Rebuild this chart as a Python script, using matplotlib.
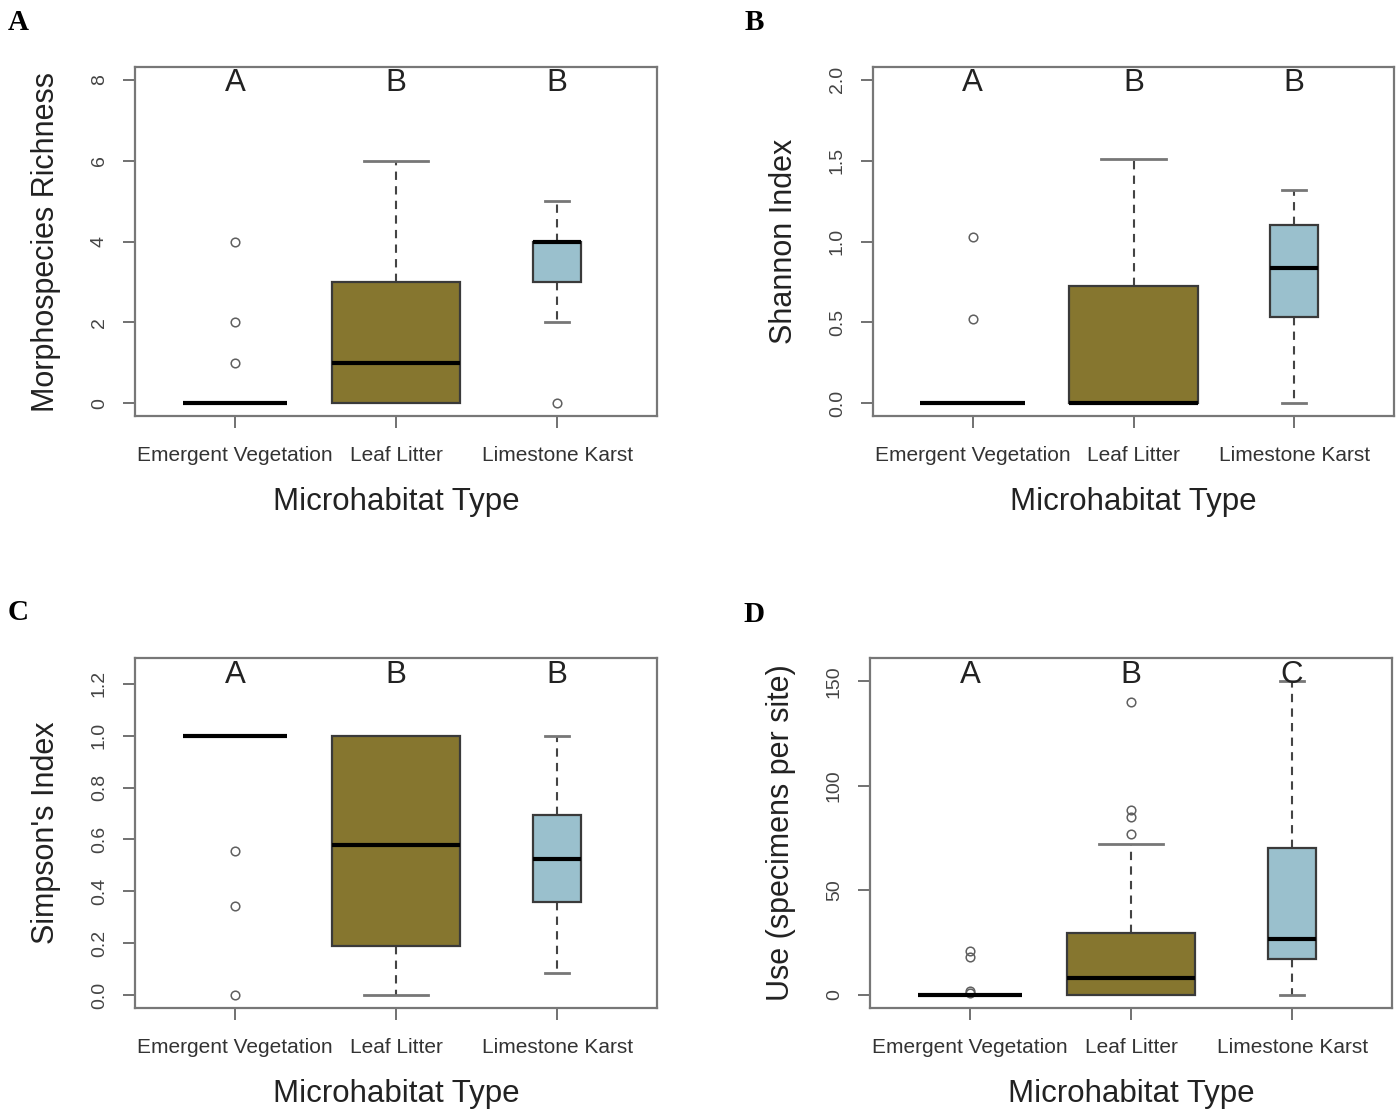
import matplotlib.pyplot as plt
import numpy as np

plt.rcParams['font.family'] = ['Liberation Sans', 'DejaVu Sans']

categories = ['Emergent Vegetation', 'Leaf Litter', 'Limestone Karst']
box_colors = ['white', '#86762F', '#9AC0CD']
box_widths = [0.65, 0.80, 0.30]

# morphospecies richness
rich_q1 = [0, 0, 3]
rich_med = [0, 1, 4]
rich_q3 = [0, 3, 4]
rich_lo = [0, 0, 2]
rich_hi = [0, 6, 5]
rich_out = [[1, 2, 4], [], [0]]
rich_letters = ['A', 'B', 'B']

# shannon index
shan_q1 = [0, 0, 0.535]
shan_med = [0, 0, 0.835]
shan_q3 = [0, 0.725, 1.105]
shan_lo = [0, 0, 0]
shan_hi = [0, 1.51, 1.32]
shan_out = [[0.52, 1.03], [], []]
shan_letters = ['A', 'B', 'B']

# simpson's index
simp_q1 = [1.0, 0.19, 0.36]
simp_med = [1.0, 0.58, 0.525]
simp_q3 = [1.0, 1.0, 0.695]
simp_lo = [1.0, 0.0, 0.085]
simp_hi = [1.0, 1.0, 1.0]
simp_out = [[0.0, 0.345, 0.555], [], []]
simp_letters = ['A', 'B', 'B']

# use (specimens per site)
use_q1 = [0, 0, 17]
use_med = [0, 8, 27]
use_q3 = [0, 29.5, 70.5]
use_lo = [0, 0, 0]
use_hi = [0, 72, 150]
use_out = [[1, 2, 18, 21], [77, 85, 88.5, 140], []]
use_letters = ['A', 'B', 'C']

W, H = 1398, 1110
fig = plt.figure(figsize=(W / 100, H / 100), dpi=100)


def draw_panel(rect, q1, med, q3, lo, hi, out, letters, ylim, yticks, ytlabels,
               ylabel, letter_y, tag, tag_xy):
    ax = fig.add_axes([rect[0] / W, 1 - rect[3] / H,
                       (rect[2] - rect[0]) / W, (rect[3] - rect[1]) / H])
    stats = []
    for i in range(3):
        stats.append(dict(med=med[i], q1=q1[i], q3=q3[i],
                          whislo=lo[i], whishi=hi[i], fliers=out[i]))
    bp = ax.bxp(stats, positions=[1, 2, 3], widths=box_widths,
                capwidths=[w * 0.5 for w in box_widths], patch_artist=True,
                boxprops=dict(edgecolor='#3a3a3a', linewidth=1.6, zorder=3),
                medianprops=dict(color='black', linewidth=3.0, zorder=4),
                whiskerprops=dict(color='#444444', linewidth=1.5,
                                  linestyle=(0, (4, 3)), zorder=2),
                capprops=dict(color='#777777', linewidth=2.0, zorder=2),
                flierprops=dict(marker='o', markerfacecolor='none',
                                markeredgecolor='#606060', markersize=6.2,
                                markeredgewidth=1.1))
    for patch, c in zip(bp['boxes'], box_colors):
        patch.set_facecolor(c)
    # a whisker of zero length sits on the box edge; its cap stays hidden
    for wh, cap in zip(bp['whiskers'], bp['caps']):
        y = wh.get_ydata()
        if y[0] == y[1]:
            cap.set_visible(False)

    ax.set_xlim(0.38, 3.62)
    ax.set_ylim(*ylim)
    ax.set_xticks([1, 2, 3])
    ax.set_xticklabels(categories, fontsize=15, color='#333333')
    ax.set_yticks(yticks)
    ax.set_yticklabels(ytlabels, fontsize=14, color='#444444', rotation=90,
                       va='center')
    ax.tick_params(axis='both', length=8.5, width=1.3, color='#666666')
    ax.tick_params(axis='x', pad=13)
    ax.tick_params(axis='y', pad=11)
    for sp in ax.spines.values():
        sp.set_color('#777777')
        sp.set_linewidth(1.6)

    for i, lt in enumerate(letters):
        ax.text(i + 1, letter_y, lt, ha='center', va='center', fontsize=22.5,
                color='#222222')

    ax.set_ylabel(ylabel, fontsize=22, color='#222222')
    ax.yaxis.set_label_coords(-0.170, 0.5)
    ax.yaxis.label.set_va('center')
    ax.set_xlabel('Microhabitat Type', fontsize=22.5, color='#222222')
    ax.xaxis.set_label_coords(0.5, -0.245)
    ax.xaxis.label.set_va('center')

    fig.text(tag_xy[0] / W, 1 - tag_xy[1] / H, tag, ha='left', va='center',
             fontsize=21, fontweight='bold', family='Liberation Serif')
    return ax


draw_panel((135, 67, 657, 416), rich_q1, rich_med, rich_q3, rich_lo, rich_hi,
           rich_out, rich_letters, (-0.32, 8.32), [0, 2, 4, 6, 8],
           ['0', '2', '4', '6', '8'], 'Morphospecies Richness', 7.93,
           'A', (8, 22))

draw_panel((873, 67, 1394, 416), shan_q1, shan_med, shan_q3, shan_lo, shan_hi,
           shan_out, shan_letters, (-0.08, 2.08), [0, 0.5, 1.0, 1.5, 2.0],
           ['0.0', '0.5', '1.0', '1.5', '2.0'], 'Shannon Index', 1.98,
           'B', (745, 22))

draw_panel((135, 658, 657, 1008), simp_q1, simp_med, simp_q3, simp_lo, simp_hi,
           simp_out, simp_letters, (-0.05, 1.30), np.arange(0, 1.21, 0.2),
           ['0.0', '0.2', '0.4', '0.6', '0.8', '1.0', '1.2'], "Simpson's Index",
           1.235, 'C', (8, 613))

draw_panel((870, 658, 1392, 1008), use_q1, use_med, use_q3, use_lo, use_hi,
           use_out, use_letters, (-6.2, 161.2), [0, 50, 100, 150],
           ['0', '50', '100', '150'], 'Use (specimens per site)', 153.3,
           'D', (743, 614))

fig.savefig('out.png', dpi=100)
